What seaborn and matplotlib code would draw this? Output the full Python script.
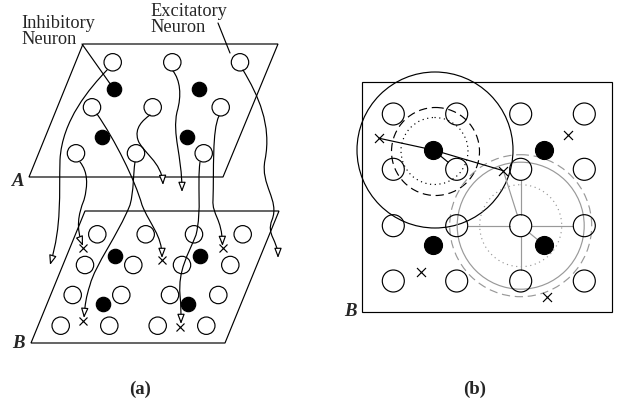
import numpy as np
import matplotlib
matplotlib.use("Agg")
import matplotlib.pyplot as plt
from matplotlib.patches import Circle, Polygon, Rectangle, FancyArrowPatch
from matplotlib.path import Path
import seaborn as sns

sns.set_theme(style="white")
plt.rcParams['font.family'] = ['Liberation Serif', 'DejaVu Serif']

# ---- panel (a): neuron positions in the two layers (pixel coords) ----
a_open_x = [112.7, 172.3, 240.0, 92.0, 152.7, 220.7, 76.0, 136.0, 203.7]
a_open_y = [62.3, 62.3, 62.3, 107.3, 107.3, 107.3, 153.3, 153.3, 153.3]
a_fill_x = [114.0, 199.0, 102.3, 187.3]
a_fill_y = [89.3, 89.3, 137.3, 137.3]

b_open_x = [97.3, 145.7, 194.0, 242.7, 85.0, 133.3, 182.0, 230.3,
            72.7, 121.3, 170.0, 218.3, 60.7, 109.3, 157.7, 206.3]
b_open_y = [234.3] * 4 + [265.0] * 4 + [295.0] * 4 + [325.7] * 4
b_fill_x = [115.0, 200.3, 103.3, 188.0]
b_fill_y = [256.0, 256.0, 304.0, 304.0]
b_cross_x = [83.3, 162.3, 222.7, 83.3, 180.3]
b_cross_y = [247.7, 260.0, 247.7, 321.0, 326.7]

plane_A = [(83, 44), (278, 44), (223, 177), (29, 177)]
plane_B = [(85, 211), (279, 211), (225, 343), (31, 343)]

# axons: cubic bezier control points (start, c1, c2, end, c1, c2, end ...)
axons = [
    [(107, 70), (90, 88), (62, 120), (60, 160), (59, 195), (62, 225), (50, 265)],
    [(80, 162), (88, 172), (88, 185), (84, 200), (78, 215), (76, 228), (83, 246)],
    [(97, 114), (115, 140), (135, 180), (142, 205), (150, 225), (162, 235), (162, 258)],
    [(135, 162), (133, 175), (134, 190), (130, 205), (118, 235), (95, 265), (90, 285),
     (86, 297), (85, 305), (84, 318)],
    [(150, 115), (143, 120), (134, 128), (138, 140), (142, 152), (162, 162), (163, 185)],
    [(173, 71), (180, 80), (182, 95), (177, 112), (172, 135), (182, 155), (182, 192)],
    [(200, 162), (197, 185), (202, 210), (196, 235), (188, 255), (178, 270), (180, 295),
     (181, 305), (181, 312), (181, 324)],
    [(219, 116), (212, 130), (214, 170), (213, 200), (212, 215), (222, 218), (222.5, 246)],
    [(243, 70), (258, 95), (272, 125), (265, 160), (260, 185), (280, 200), (272, 220),
     (266, 235), (278, 240), (278, 258)],
]

# ---- panel (b): grid of neurons ----
grid_x = [393.3, 456.7, 520.7, 584.3]
grid_y = [114.0, 169.3, 225.7, 281.0]
inh_x = [433.3, 544.0, 433.3, 544.0]
inh_y = [150.0, 150.0, 245.0, 245.0]
cross_x = [379.3, 567.7, 503.3, 421.0, 546.7]
cross_y = [138.3, 135.0, 170.7, 271.7, 297.3]

R_OPEN = 11.0
R_FILL = 9.0

fig = plt.figure(figsize=(6.21, 4.16), dpi=100)
ax = fig.add_axes([0, 0, 1, 1])
ax.set_xlim(0, 621)
ax.set_ylim(416, 0)
ax.axis('off')

LW = 0.85


def s_of(d_px):
    return (d_px * 0.72) ** 2


def seg(p, q, r0=0.0, r1=0.0, **kw):
    p = np.array(p, float)
    q = np.array(q, float)
    u = (q - p) / np.hypot(*(q - p))
    p2 = p + u * r0
    q2 = q - u * r1
    ax.plot([p2[0], q2[0]], [p2[1], q2[1]], **kw)


# planes
ax.add_patch(Polygon(plane_A, closed=True, fill=False, ec='black', lw=LW))
ax.add_patch(Polygon(plane_B, closed=True, fill=False, ec='black', lw=LW))

# axons with open arrow heads
for pts in axons:
    codes = [Path.MOVETO] + [Path.CURVE4] * (len(pts) - 1)
    arr = FancyArrowPatch(path=Path(pts, codes),
                          arrowstyle='-|>,head_length=5.8,head_width=2.2',
                          mutation_scale=1, fc='white', ec='black', lw=LW,
                          shrinkA=0, shrinkB=0, zorder=2)
    ax.add_patch(arr)

sns.scatterplot(x=a_open_x, y=a_open_y, s=s_of(17.4), marker='o', facecolor='none',
                edgecolor='black', linewidth=LW, ax=ax, zorder=3)
sns.scatterplot(x=a_fill_x, y=a_fill_y, s=s_of(14.4), marker='o', color='black',
                edgecolor='black', linewidth=LW, ax=ax, zorder=3)
sns.scatterplot(x=b_open_x, y=b_open_y, s=s_of(17.4), marker='o', facecolor='none',
                edgecolor='black', linewidth=LW, ax=ax, zorder=3)
sns.scatterplot(x=b_fill_x, y=b_fill_y, s=s_of(14.4), marker='o', color='black',
                edgecolor='black', linewidth=LW, ax=ax, zorder=3)
sns.scatterplot(x=b_cross_x, y=b_cross_y, s=s_of(8), marker='x', color='black',
                linewidth=LW, ax=ax, zorder=3)

# labels of panel (a)
ax.text(21, 15.5, 'Inhibitory\nNeuron', fontsize=13.2, ha='left', va='top', linespacing=0.88)
ax.text(150, 3.5, 'Excitatory\nNeuron', fontsize=13.2, ha='left', va='top', linespacing=0.88)
seg((82, 44), (a_fill_x[0], a_fill_y[0]), 0, 7, color='black', lw=LW)
seg((218, 23), (230, 53), color='black', lw=LW)
ax.text(12, 181, 'A', fontsize=13.5, fontweight='bold', fontstyle='italic', va='center')
ax.text(12, 344, 'B', fontsize=13.5, fontweight='bold', fontstyle='italic', va='center')

# ---- panel (b) ----
ax.add_patch(Rectangle((362, 82), 250, 230, fill=False, ec='black', lw=LW))
gx, gy = np.meshgrid(grid_x, grid_y)
sns.scatterplot(x=gx.ravel(), y=gy.ravel(), s=s_of(22), marker='o', facecolor='none',
                edgecolor='black', linewidth=LW, ax=ax, zorder=3)
sns.scatterplot(x=inh_x, y=inh_y, s=s_of(18), marker='o', color='black',
                edgecolor='black', linewidth=LW, ax=ax, zorder=3)
sns.scatterplot(x=cross_x, y=cross_y, s=s_of(9), marker='x', color='black',
                linewidth=LW, ax=ax, zorder=3)

# black ranges around the inhibitory neuron
c0 = (435, 150)
ax.add_patch(Circle(c0, 78, fill=False, ec='black', lw=LW))
ax.add_patch(Circle((435.5, 151.5), 44, fill=False, ec='black', lw=LW, ls=(0, (7, 4))))
ax.add_patch(Circle((434.5, 151), 33.5, fill=False, ec='black', lw=LW, ls=(0, (1, 3))))
seg((inh_x[0], inh_y[0]), (cross_x[0], cross_y[0]), R_FILL, 0, color='black', lw=LW)
seg((inh_x[0], inh_y[0]), (cross_x[2], cross_y[2]), R_FILL, 0, color='black', lw=LW)
seg((inh_x[0], inh_y[0]), (grid_x[1], grid_y[1]), R_FILL, R_OPEN, color='black', lw=LW)

# gray ranges around the excitatory neuron
GRAY = '#999999'
ce = (grid_x[2], grid_y[2])
ax.add_patch(Circle(ce, 63.5, fill=False, ec=GRAY, lw=LW))
ax.add_patch(Circle(ce, 71, fill=False, ec=GRAY, lw=LW, ls=(0, (7, 4))))
ax.add_patch(Circle(ce, 41, fill=False, ec=GRAY, lw=LW, ls=(0, (1, 3))))
for nb in [(grid_x[1], grid_y[2]), (grid_x[3], grid_y[2]),
           (grid_x[2], grid_y[1]), (grid_x[2], grid_y[3])]:
    seg(ce, nb, R_OPEN, R_OPEN, color=GRAY, lw=LW)
seg(ce, (inh_x[3], inh_y[3]), R_OPEN, R_FILL, color=GRAY, lw=LW)
seg(ce, (cross_x[2], cross_y[2]), R_OPEN, 0, color=GRAY, lw=LW)

ax.text(344, 312, 'B', fontsize=13.5, fontweight='bold', fontstyle='italic', va='center')

# panel captions
ax.text(140, 389, '(a)', fontsize=13.5, fontweight='bold', ha='center', va='center')
ax.text(475, 389, '(b)', fontsize=13.5, fontweight='bold', ha='center', va='center')

plt.savefig('out.png', dpi=100)
